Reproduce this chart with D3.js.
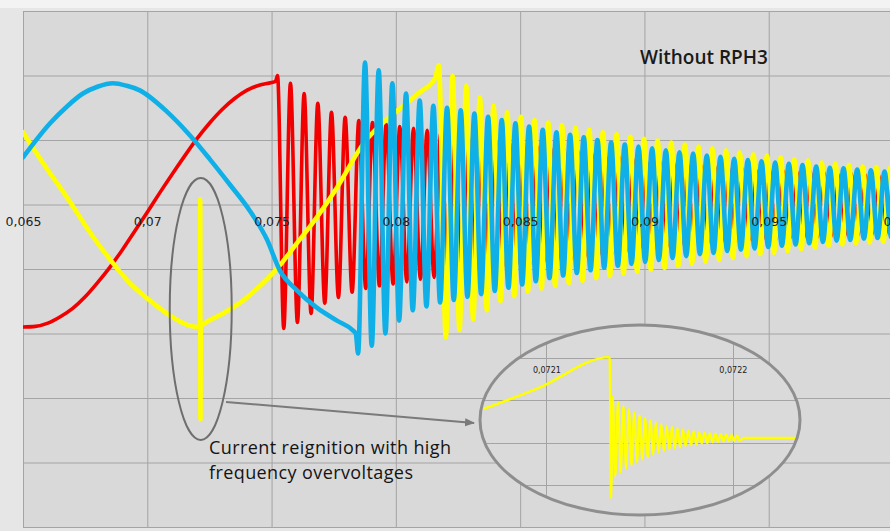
<!DOCTYPE html>
<html><head><meta charset="utf-8">
<script src="https://cdn.jsdelivr.net/npm/d3@7"></script>
<style>html,body{margin:0;padding:0;background:#e6e6e6;}svg{display:block}</style>
</head><body>
<svg id="chart" width="890" height="531"></svg>
<script>
// ---------- data ----------
const xTicks = [0.065, 0.07, 0.075, 0.08, 0.085, 0.09, 0.095, 0.1];
const yTicks = [-5, -4, -3, -2, -1, 0, 1, 2, 3];
const titleText = "Without RPH3";
const noteLines = ["Current reignition with high", "frequency overvoltages"];

// phase voltages [time s, value]
const redPhase = [
[0.0650,-1.90],[0.0655,-1.89],[0.0660,-1.84],[0.0665,-1.74],[0.0670,-1.61],[0.0675,-1.43],[0.0680,-1.21],[0.0685,-0.97],[0.0690,-0.70],[0.0695,-0.41],[0.0700,-0.12],[0.0705,0.18],[0.0710,0.47],[0.0715,0.75],[0.0720,1.02],[0.0725,1.26],[0.0730,1.47],[0.0735,1.64],[0.0740,1.77],[0.0745,1.85],[0.0750,1.89],[0.07516,1.91],
[0.07524,2.00],[0.07549,-1.92],[0.07576,1.88],[0.07604,-1.83],[0.07631,1.72],[0.07659,-1.69],[0.07686,1.57],[0.07714,-1.53],[0.07741,1.43],[0.07769,-1.44],[0.07796,1.35],[0.07824,-1.36],[0.07851,1.30],[0.07879,-1.30],[0.07906,1.27],[0.07934,-1.26],[0.07961,1.24],[0.07989,-1.23],[0.08016,1.21],[0.08044,-1.20],[0.08071,1.18],[0.08099,-1.16],[0.08126,1.15],[0.08154,-1.13],[0.08181,1.12],[0.08209,-1.10],[0.08236,1.09],[0.08264,-1.07],[0.08291,1.06],[0.08319,-1.04],[0.08346,1.03],[0.08374,-1.01],[0.08401,1.00],[0.08429,-0.98],[0.08456,0.97],[0.08484,-0.96],[0.08511,0.94],[0.08539,-0.93],[0.08566,0.92],[0.08594,-0.90],[0.08621,0.89],[0.08649,-0.88],[0.08676,0.86],[0.08704,-0.85],[0.08731,0.84],[0.08759,-0.82],[0.08786,0.81],[0.08814,-0.80],[0.08841,0.78],[0.08869,-0.77],[0.08896,0.75],[0.08924,-0.74],[0.08951,0.72],[0.08979,-0.70],[0.09006,0.69],[0.09034,-0.68],[0.09061,0.67],[0.09089,-0.66],[0.09116,0.65],[0.09144,-0.64],[0.09171,0.63],[0.09199,-0.62],[0.09226,0.61],[0.09254,-0.60],[0.09281,0.60],[0.09309,-0.59],[0.09336,0.58],[0.09364,-0.57],[0.09391,0.57],[0.09419,-0.56],[0.09446,0.55],[0.09474,-0.55],[0.09501,0.54],[0.09529,-0.54],[0.09556,0.53],[0.09584,-0.53],[0.09611,0.52],[0.09639,-0.52],[0.09666,0.51],[0.09694,-0.51],[0.09721,0.50],[0.09749,-0.50],[0.09776,0.49],[0.09804,-0.49],[0.09831,0.49],[0.09859,-0.48],[0.09886,0.48],[0.09914,-0.48],[0.09941,0.47],[0.09969,-0.47],[0.09996,0.47],[0.10024,-0.47]
];
const bluePhase = [
[0.06500,0.73],[0.06609,1.26],[0.06677,1.52],[0.06741,1.72],[0.06802,1.83],[0.06862,1.88],[0.06918,1.84],[0.06970,1.77],[0.07079,1.44],[0.07172,1.07],[0.07252,0.70],[0.07332,0.31],[0.07413,-0.10],[0.07481,-0.54],[0.07533,-1.02],[0.07602,-1.33],[0.07682,-1.60],[0.07763,-1.80],[0.07827,-1.95],[0.07839,-2.00],
[0.07848,-2.31],[0.07876,2.20],[0.07903,-2.19],[0.07931,2.08],[0.07958,-2.00],[0.07986,1.88],[0.08013,-1.80],[0.08041,1.72],[0.08068,-1.64],[0.08096,1.61],[0.08123,-1.58],[0.08151,1.53],[0.08178,-1.52],[0.08206,1.50],[0.08233,-1.48],[0.08261,1.46],[0.08288,-1.43],[0.08316,1.41],[0.08343,-1.39],[0.08371,1.36],[0.08398,-1.34],[0.08426,1.31],[0.08453,-1.29],[0.08481,1.26],[0.08508,-1.24],[0.08536,1.21],[0.08563,-1.19],[0.08591,1.16],[0.08618,-1.14],[0.08646,1.12],[0.08673,-1.10],[0.08701,1.08],[0.08728,-1.06],[0.08756,1.04],[0.08783,-1.02],[0.08811,1.00],[0.08838,-0.98],[0.08866,0.96],[0.08893,-0.95],[0.08921,0.93],[0.08948,-0.92],[0.08976,0.90],[0.09003,-0.89],[0.09031,0.87],[0.09058,-0.86],[0.09086,0.84],[0.09113,-0.83],[0.09141,0.81],[0.09168,-0.80],[0.09196,0.79],[0.09223,-0.77],[0.09251,0.76],[0.09278,-0.75],[0.09306,0.74],[0.09333,-0.72],[0.09361,0.71],[0.09388,-0.70],[0.09416,0.69],[0.09443,-0.68],[0.09471,0.67],[0.09498,-0.66],[0.09526,0.65],[0.09553,-0.64],[0.09581,0.63],[0.09608,-0.62],[0.09636,0.61],[0.09663,-0.60],[0.09691,0.59],[0.09718,-0.58],[0.09746,0.57],[0.09773,-0.56],[0.09801,0.56],[0.09828,-0.55],[0.09856,0.54],[0.09883,-0.53],[0.09911,0.53],[0.09938,-0.52],[0.09966,0.51],[0.09993,-0.51],[0.10021,0.50]
];
const yellowPhase = [
[0.06500,1.12],[0.06588,0.60],[0.06677,0.11],[0.06769,-0.43],[0.06862,-0.91],[0.06930,-1.22],[0.07011,-1.49],[0.07103,-1.75],[0.07172,-1.88],[0.07212,-1.90],[0.07213,0.08],[0.07214,-3.33],[0.07215,-1.89],[0.07224,-1.86],[0.07304,-1.69],[0.07385,-1.49],[0.07465,-1.22],[0.07525,-0.98],[0.07602,-0.60],[0.07682,-0.20],[0.07763,0.26],[0.07867,0.93],[0.08020,1.50],[0.08096,1.74],[0.08157,1.95],
[0.08173,2.16],[0.08201,-2.06],[0.08228,2.00],[0.08256,-1.95],[0.08283,1.84],[0.08311,-1.78],[0.08338,1.66],[0.08366,-1.64],[0.08393,1.53],[0.08421,-1.50],[0.08448,1.43],[0.08476,-1.42],[0.08503,1.36],[0.08531,-1.35],[0.08558,1.31],[0.08586,-1.30],[0.08613,1.27],[0.08641,-1.26],[0.08668,1.23],[0.08696,-1.22],[0.08723,1.19],[0.08751,-1.18],[0.08778,1.16],[0.08806,-1.14],[0.08833,1.12],[0.08861,-1.11],[0.08888,1.09],[0.08916,-1.07],[0.08943,1.05],[0.08971,-1.04],[0.08998,1.02],[0.09026,-1.01],[0.09053,0.99],[0.09081,-0.98],[0.09108,0.96],[0.09136,-0.95],[0.09163,0.93],[0.09191,-0.92],[0.09218,0.90],[0.09246,-0.89],[0.09273,0.87],[0.09301,-0.86],[0.09328,0.84],[0.09356,-0.83],[0.09383,0.81],[0.09411,-0.80],[0.09438,0.78],[0.09466,-0.77],[0.09493,0.76],[0.09521,-0.75],[0.09548,0.73],[0.09576,-0.72],[0.09603,0.70],[0.09631,-0.69],[0.09658,0.68],[0.09686,-0.67],[0.09713,0.65],[0.09741,-0.64],[0.09768,0.63],[0.09796,-0.62],[0.09823,0.61],[0.09851,-0.60],[0.09878,0.59],[0.09906,-0.59],[0.09933,0.58],[0.09961,-0.58],[0.09988,0.57],[0.10016,-0.57]
];

// zoomed inset around the reignition
const insetTicks = [0.0721, 0.0722];
const insetYTicks = [0, -1, -2, -3];
const insetYellow = [
[0.0720660,-1.21],[0.0720957,-0.71],[0.0721339,0.02],[0.0721347,-3.31],
[0.07213550,-0.92],[0.07213695,-2.80],[0.07213840,-1.03],[0.07213985,-2.70],[0.07214130,-1.13],[0.07214275,-2.61],[0.07214420,-1.21],[0.07214565,-2.53],[0.07214710,-1.29],[0.07214855,-2.46],[0.07215000,-1.36],[0.07215145,-2.39],[0.07215290,-1.42],[0.07215435,-2.34],[0.07215580,-1.47],[0.07215725,-2.28],[0.07215870,-1.52],[0.07216015,-2.24],[0.07216160,-1.56],[0.07216305,-2.20],[0.07216450,-1.60],[0.07216595,-2.16],[0.07216740,-1.63],[0.07216885,-2.13],[0.07217030,-1.66],[0.07217175,-2.11],[0.07217320,-1.69],[0.07217465,-2.08],[0.07217610,-1.71],[0.07217755,-2.06],[0.07217900,-1.73],[0.07218045,-2.04],[0.07218190,-1.75],[0.07218335,-2.02],[0.07218480,-1.76],[0.07218625,-2.01],[0.07218770,-1.78],[0.07218915,-1.99],[0.07219060,-1.79],[0.07219205,-1.98],[0.07219350,-1.80],[0.07219495,-1.97],[0.07219640,-1.81],[0.07219785,-1.96],[0.07219930,-1.82],[0.07220075,-1.96],[0.07220220,-1.83],[0.07220365,-1.95],
[0.0722060,-1.89],[0.0722360,-1.89]
];

// ---------- drawing ----------
const W = 890, H = 531;
const P = {left: 23, top: 11, right: 890, bottom: 527};
const svg = d3.select("#chart");
const fmt = d3.formatLocale({decimal: ",", thousands: ".", grouping: [3], currency: ["", ""]}).format("~g");

svg.append("rect").attr("width", W).attr("height", H).attr("fill", "#e6e6e6");
svg.append("rect").attr("width", W).attr("height", 8).attr("fill", "#f3f3f3");
svg.append("rect").attr("x", P.left).attr("y", P.top)
  .attr("width", P.right - P.left).attr("height", P.bottom - P.top).attr("fill", "#d9d9d9");

const x = d3.scaleLinear().domain([0.065, 0.1]).range([23, 893]);
const y = d3.scaleLinear().domain([-5, 3]).range([527, 11]);

const defs = svg.append("defs");
defs.append("clipPath").attr("id", "plotClip").append("rect")
  .attr("x", P.left).attr("y", P.top).attr("width", P.right - P.left).attr("height", P.bottom - P.top);

// grid
const gx = svg.append("g").attr("transform", `translate(0,${P.bottom})`)
  .call(d3.axisBottom(x).tickValues(xTicks).tickSize(-(P.bottom - P.top)).tickFormat(""));
gx.select(".domain").remove();
gx.selectAll("line").attr("stroke", "#a4a4a4");
const gy = svg.append("g").attr("transform", `translate(${P.left},0)`)
  .call(d3.axisLeft(y).tickValues(yTicks).tickSize(-(P.right - P.left)).tickFormat(""));
gy.select(".domain").remove();
gy.selectAll("line").attr("stroke", "#a4a4a4");

// series
const line = d3.line().x(d => x(d[0])).y(d => y(d[1])).curve(d3.curveMonotoneX);
const series = svg.append("g").attr("clip-path", "url(#plotClip)");
[[redPhase, "#f20000", 3.6], [yellowPhase, "#ffff00", 4.6], [bluePhase, "#0fb0e8", 4.6]].forEach(([data, col, w]) => {
  series.append("path").datum(data).attr("d", line).attr("fill", "none")
    .attr("stroke", col).attr("stroke-width", w).attr("stroke-linejoin", "round").attr("stroke-linecap", "round");
});

// axis labels on the zero line
const lab = svg.append("g").attr("transform", `translate(0,${y(0)})`)
  .call(d3.axisBottom(x).tickValues(xTicks).tickSize(0).tickPadding(13).tickFormat(fmt));
lab.select(".domain").remove();
lab.selectAll("text").attr("font-family", "DejaVu Sans").attr("font-size", 12.5).attr("fill", "#1e1e1e");

// title
svg.append("text").attr("x", 640).attr("y", 64).text(titleText)
  .attr("font-family", "Open Sans").attr("font-size", 19).attr("font-weight", 600).attr("fill", "#1a1a1a");

// annotation ellipse around the spike
const spikeT = 0.07213;
svg.append("ellipse").attr("cx", x(spikeT) + 0.5).attr("cy", 309).attr("rx", 31).attr("ry", 131)
  .attr("fill", "none").attr("stroke", "#6e6e6e").attr("stroke-width", 2);

// connector with arrow
defs.append("marker").attr("id", "arr").attr("viewBox", "0 0 10 10").attr("refX", 9).attr("refY", 5)
  .attr("markerWidth", 5).attr("markerHeight", 5).attr("orient", "auto")
  .append("path").attr("d", "M0,1 L10,5 L0,9 Z").attr("fill", "#7a7a7a");
svg.append("line").attr("x1", 226).attr("y1", 402).attr("x2", 474).attr("y2", 423)
  .attr("stroke", "#7a7a7a").attr("stroke-width", 2).attr("marker-end", "url(#arr)");

// note text (two lines)
svg.selectAll(".note").data(noteLines).join("text").attr("class", "note")
  .attr("x", 209).attr("y", (d, i) => 454 + i * 25).text(d => d)
  .attr("font-family", "Open Sans").attr("font-size", 18).attr("letter-spacing", 0.4).attr("fill", "#141414");

// inset
const E = {cx: 640, cy: 420, rx: 160, ry: 95};
defs.append("clipPath").attr("id", "insetClip").append("ellipse")
  .attr("cx", E.cx).attr("cy", E.cy).attr("rx", E.rx - 1).attr("ry", E.ry - 1);
svg.append("ellipse").attr("cx", E.cx).attr("cy", E.cy).attr("rx", E.rx).attr("ry", E.ry).attr("fill", "#dadada");
const xi = d3.scaleLinear().domain([0.072066, 0.072236]).range([483, 800]);
const yi = d3.scaleLinear().domain([0, -3]).range([358, 485]);
const ins = svg.append("g").attr("clip-path", "url(#insetClip)");
ins.selectAll(".ivg").data(insetTicks).join("line").attr("class", "ivg")
  .attr("x1", d => Math.round(xi(d)) + 0.5).attr("x2", d => Math.round(xi(d)) + 0.5)
  .attr("y1", E.cy - E.ry).attr("y2", E.cy + E.ry).attr("stroke", "#a4a4a4");
ins.selectAll(".ihg").data(insetYTicks).join("line").attr("class", "ihg")
  .attr("y1", d => Math.round(yi(d)) + 0.5).attr("y2", d => Math.round(yi(d)) + 0.5)
  .attr("x1", E.cx - E.rx).attr("x2", E.cx + E.rx).attr("stroke", "#a4a4a4");
const ilab = ins.append("g").attr("transform", `translate(0,${yi(0)})`)
  .call(d3.axisBottom(xi).tickValues(insetTicks).tickSize(0).tickPadding(9).tickFormat(fmt));
ilab.select(".domain").remove();
ilab.selectAll("text").attr("font-family", "DejaVu Sans").attr("font-size", 8).attr("fill", "#222");
const iline = d3.line().x(d => xi(d[0])).y(d => yi(d[1])).curve(d3.curveMonotoneX);
ins.append("path").datum(insetYellow).attr("d", iline).attr("fill", "none")
  .attr("stroke", "#ffff00").attr("stroke-width", 2.4).attr("stroke-linejoin", "round");
svg.append("ellipse").attr("cx", E.cx).attr("cy", E.cy).attr("rx", E.rx).attr("ry", E.ry)
  .attr("fill", "none").attr("stroke", "#8e8e8e").attr("stroke-width", 3);
</script>
</body></html>
